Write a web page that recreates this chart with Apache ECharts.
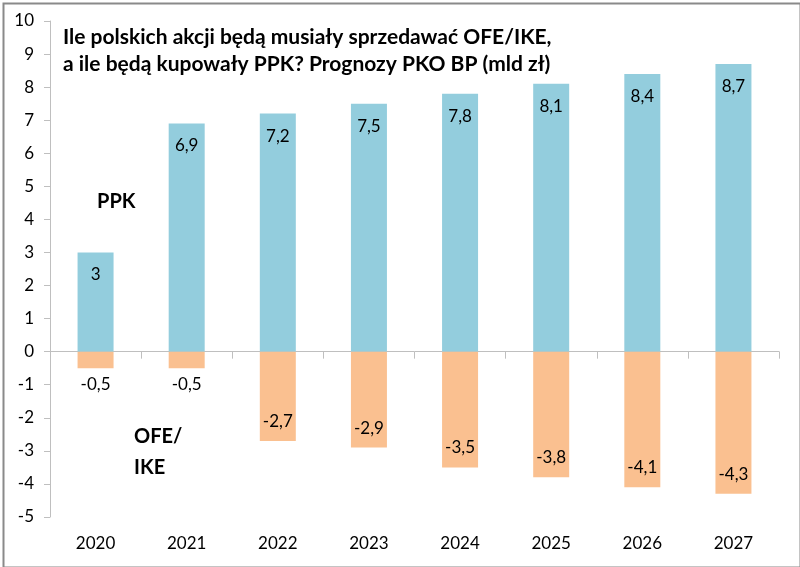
<!DOCTYPE html>
<html><head><meta charset="utf-8">
<script src="https://cdn.jsdelivr.net/npm/echarts@6/dist/echarts.min.js"></script>
<style>html,body{margin:0;padding:0;background:#fff}#c{width:800px;height:567px}</style>
</head><body><div id="c"></div>
<script>
const categories = ['2020','2021','2022','2023','2024','2025','2026','2027'];
const ppk = [3, 6.9, 7.2, 7.5, 7.8, 8.1, 8.4, 8.7];
const ofe = [-0.5, -0.5, -2.7, -2.9, -3.5, -3.8, -4.1, -4.3];
const yTicks = {min: -5, max: 10, interval: 1};
const titleText = 'Ile polskich akcji będą musiały sprzedawać OFE/IKE,\na ile będą kupowały PPK? Prognozy PKO BP (mld zł)';
const FONT = 'Lato';
const fmt = v => String(v).replace('.', ',');

const chart = echarts.init(document.getElementById('c'));
chart.setOption({
  animation: false,
  backgroundColor: '#fff',
  textStyle: {fontFamily: FONT},
  title: {
    text: titleText, left: 63, top: 24, padding: 0,
    textStyle: {fontFamily: FONT, fontWeight: 'bold', fontSize: 21, lineHeight: 27, color: '#000'}
  },
  grid: {left: 50, right: 21, top: 21, bottom: 50},
  xAxis: [{
    type: 'category', data: categories,
    axisLine: {onZero: true, lineStyle: {color: '#bfbfbf', width: 1}},
    axisTick: {show: true, length: 7, lineStyle: {color: '#bfbfbf'}},
    axisLabel: {show: false}
  }, {
    type: 'category', data: categories, position: 'bottom',
    axisLine: {show: false, onZero: false}, axisTick: {show: false},
    axisLabel: {show: true, margin: 18, fontSize: 17, color: '#000', fontFamily: FONT}
  }],
  yAxis: {
    type: 'value', min: yTicks.min, max: yTicks.max, interval: yTicks.interval,
    axisLine: {show: true, lineStyle: {color: '#bfbfbf'}},
    axisTick: {show: true, length: 6, lineStyle: {color: '#bfbfbf'}},
    splitLine: {show: false},
    axisLabel: {fontSize: 17, color: '#000', margin: 16, fontFamily: FONT}
  },
  series: [{
    name: 'PPK', type: 'bar', xAxisIndex: 0, data: ppk, barWidth: 36, barGap: '-100%',
    itemStyle: {color: '#93cddd'},
    label: {show: true, position: 'insideTop', distance: 14, fontSize: 17, color: '#000', fontFamily: FONT,
      formatter: p => fmt(p.value)}
  }, {
    name: 'OFE/IKE', type: 'bar', xAxisIndex: 0, barWidth: 36, barGap: '-100%',
    data: ofe.map(v => ({value: v, label: {position: v > -1 ? 'outside' : 'insideBottom', distance: v > -1 ? 8 : 11}})),
    itemStyle: {color: '#fac090'},
    label: {show: true, fontSize: 17, color: '#000', fontFamily: FONT, formatter: p => fmt(p.value)}
  }],
  graphic: [
    {type: 'text', left: 97, top: 192, style: {text: 'PPK', font: 'bold 20px ' + FONT, fill: '#000'}},
    {type: 'text', left: 134, top: 421, style: {text: 'OFE/\nIKE', font: 'bold 20px ' + FONT, lineHeight: 31, fill: '#000'}},
    {type: 'rect', left: 1, top: 1, shape: {x: 0, y: 0, width: 797, height: 564}, style: {fill: 'none', stroke: '#8a8a8a', lineWidth: 2}, silent: true}
  ]
});
</script></body></html>
